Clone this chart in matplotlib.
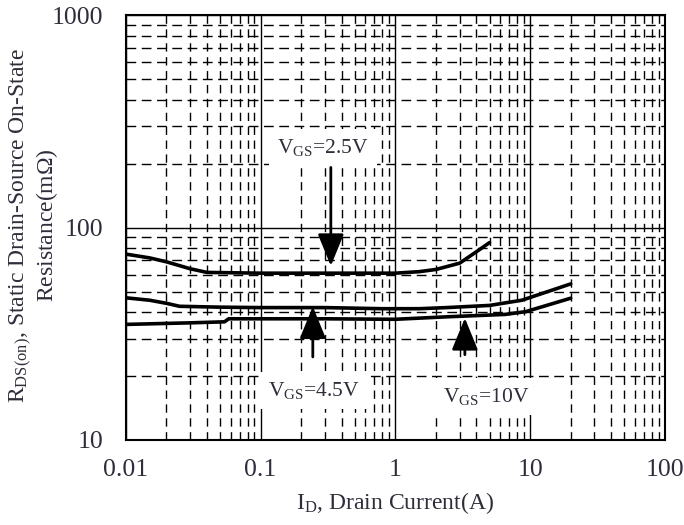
import numpy as np
import matplotlib
matplotlib.use("Agg")
import matplotlib.pyplot as plt

plt.rcParams['font.family'] = ['Liberation Serif', 'DejaVu Serif']
plt.rcParams['mathtext.fontset'] = 'custom'
plt.rcParams['mathtext.rm'] = 'Liberation Serif'
plt.rcParams['mathtext.it'] = 'Liberation Serif:italic'

TXT = '#2e2e3a'

# drain current (A) and on-resistance (mOhm)
id_25 = [0.01, 0.015, 0.02, 0.03, 0.04, 0.1, 0.3, 1.0, 1.5, 2.0, 3.0, 4.0, 5.0]
rds_25 = [75, 72, 69, 64, 61.5, 61, 61, 61, 62, 63.5, 68, 77, 85]

id_45 = [0.01, 0.015, 0.02, 0.025, 0.05, 0.1, 0.3, 0.8, 1.5, 2.4, 5.0, 8.7, 20.0]
rds_45 = [46.7, 45.5, 44.0, 42.6, 42.2, 42, 42, 41.5, 41.5, 42, 43, 45.5, 54.3]

id_10 = [0.01, 0.03, 0.054, 0.058, 0.3, 1.0, 2.4, 6.5, 9.3, 20.0]
rds_10 = [35, 35.6, 36, 37.2, 37.2, 37, 38, 39, 40.2, 46.5]

x_ticks = [0.01, 0.1, 1, 10, 100]
x_labels = ['0.01', '0.1', '1', '10', '100']
y_ticks = [10, 100, 1000]
y_labels = ['10', '100', '1000']

fig = plt.figure(figsize=(6.84, 5.25), dpi=100)
ax = fig.add_axes([0.184, 0.162, 0.788, 0.809])
ax.set_xscale('log')
ax.set_yscale('log')
ax.set_xlim(0.01, 100)
ax.set_ylim(10, 1000)

# grid: solid decades, dashed minors
ax.grid(True, which='major', color='black', lw=1.0, ls='-')
ax.grid(True, which='minor', axis='x', color='black', lw=1.0, ls=(0, (6, 4)))
ax.grid(True, which='minor', axis='y', color='black', lw=1.0, ls=(0, (7, 4)))
ax.set_axisbelow(True)
for s in ax.spines.values():
    s.set_linewidth(1.5)

ax.set_xticks(x_ticks)
ax.set_xticklabels(x_labels)
ax.set_yticks(y_ticks)
ax.set_yticklabels(y_labels)
ax.tick_params(which='both', length=0, labelsize=18.5, colors=TXT)
ax.tick_params(axis='x', pad=14)
ax.tick_params(axis='y', pad=16)

# curves
for xs, ys in [(id_25, rds_25), (id_45, rds_45), (id_10, rds_10)]:
    ax.plot(xs, ys, color='black', lw=2.6, solid_capstyle='round', zorder=3)

# labels with white boxes covering the grid
box = dict(facecolor='white', edgecolor='none', pad=6)
ax.text(0.29, 238, r'V$_{\mathrm{GS}}$=2.5V', ha='center', va='center',
        fontsize=15.5, color=TXT, bbox=box, zorder=4)
ax.text(0.25, 17.1, r'V$_{\mathrm{GS}}$=4.5V', ha='center', va='center',
        fontsize=15.5, color=TXT, bbox=box, zorder=4)
ax.text(4.75, 16.0, r'V$_{\mathrm{GS}}$=10V', ha='center', va='center',
        fontsize=15.5, color=TXT, bbox=box, zorder=4)

arrow = dict(arrowstyle='-|>,head_length=1.1,head_width=0.45', color='black',
             lw=2, mutation_scale=18, shrinkA=0, shrinkB=0)
ax.annotate('', xy=(0.332, 66), xytext=(0.332, 192), arrowprops=arrow, zorder=5)
ax.annotate('', xy=(0.244, 42.5), xytext=(0.244, 24.6), arrowprops=arrow, zorder=5)
ax.annotate('', xy=(3.28, 37.5), xytext=(3.28, 25.2), arrowprops=arrow, zorder=5)

ax.set_xlabel(r'I$_{\mathrm{D}}$, Drain Current(A)', fontsize=17, color=TXT, labelpad=6)
ax.set_ylabel(r'R$_{\mathrm{DS(on)}}$, Static Drain-Source On-State' + '\n' +
              r'Resistance(m$\Omega$)', fontsize=17, color=TXT,
              linespacing=1.0)
ax.yaxis.set_label_coords(-0.122, 0.505)

fig.savefig('out.png', dpi=100)
